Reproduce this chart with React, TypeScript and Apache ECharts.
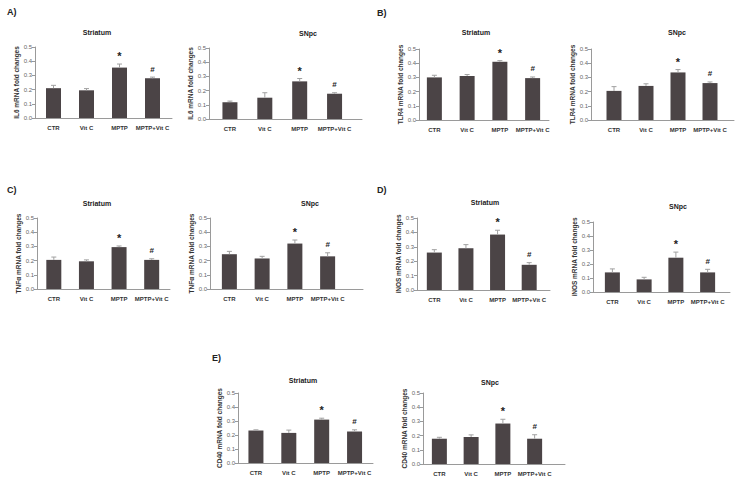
import React, { useEffect, useRef } from "react";
import * as echarts from "echarts";

const categories = ["CTR", "Vit C", "MPTP", "MPTP+Vit C"];
const markers = ["", "", "*", "#"];
const regions = ["Striatum", "SNpc"];

const il6Striatum = [0.21, 0.195, 0.355, 0.28];
const il6StriatumErr = [0.02, 0.012, 0.025, 0.008];
const il6Snpc = [0.118, 0.15, 0.265, 0.178];
const il6SnpcErr = [0.008, 0.035, 0.02, 0.007];

const tlr4Striatum = [0.3, 0.31, 0.41, 0.295];
const tlr4StriatumErr = [0.015, 0.01, 0.008, 0.008];
const tlr4Snpc = [0.205, 0.24, 0.335, 0.26];
const tlr4SnpcErr = [0.03, 0.015, 0.02, 0.008];

const tnfStriatum = [0.205, 0.195, 0.295, 0.205];
const tnfStriatumErr = [0.02, 0.01, 0.008, 0.008];
const tnfSnpc = [0.245, 0.215, 0.32, 0.23];
const tnfSnpcErr = [0.02, 0.015, 0.025, 0.025];

const inosStriatum = [0.26, 0.29, 0.385, 0.175];
const inosStriatumErr = [0.02, 0.025, 0.03, 0.015];
const inosSnpc = [0.14, 0.09, 0.245, 0.14];
const inosSnpcErr = [0.025, 0.015, 0.04, 0.022];

const cd40Striatum = [0.232, 0.215, 0.31, 0.225];
const cd40StriatumErr = [0.005, 0.02, 0.01, 0.012];
const cd40Snpc = [0.178, 0.19, 0.285, 0.178];
const cd40SnpcErr = [0.01, 0.015, 0.03, 0.028];

const panelLetters = [
  { text: "A)", x: 7, y: 12 },
  { text: "B)", x: 377, y: 13 },
  { text: "C)", x: 7, y: 190 },
  { text: "D)", x: 377, y: 190 },
  { text: "E)", x: 212, y: 358 },
];

// layout: frame (axis lines) and band (category area) positions per panel
const panels = [
  { name: "IL6 mRNA fold changes", region: 0, values: il6Striatum, errs: il6StriatumErr, fl: 35, fr: 172, t: 47, b: 118, bl: 37, br: 169, tx: 97, ty: 32 },
  { name: "IL6 mRNA fold changes", region: 1, values: il6Snpc, errs: il6SnpcErr, fl: 209, fr: 362, t: 48, b: 119, bl: 212.5, br: 352, tx: 308, ty: 33 },
  { name: "TLR4 mRNA fold changes", region: 0, values: tlr4Striatum, errs: tlr4StriatumErr, fl: 419, fr: 549, t: 49, b: 120, bl: 418, br: 549, tx: 476, ty: 32 },
  { name: "TLR4 mRNA fold changes", region: 1, values: tlr4Snpc, errs: tlr4SnpcErr, fl: 591, fr: 734, t: 49, b: 120, bl: 598, br: 726, tx: 677, ty: 32 },
  { name: "TNF\u03b1 mRNA fold changes", region: 0, values: tnfStriatum, errs: tnfStriatumErr, fl: 37, fr: 170, t: 218, b: 289, bl: 37.5, br: 168, tx: 97, ty: 203 },
  { name: "TNF\u03b1 mRNA fold changes", region: 1, values: tnfSnpc, errs: tnfSnpcErr, fl: 210, fr: 363, t: 218, b: 289, bl: 213, br: 344, tx: 310, ty: 203 },
  { name: "iNOS mRNA fold changes", region: 0, values: inosStriatum, errs: inosStriatumErr, fl: 417, fr: 550, t: 218, b: 290, bl: 418.5, br: 545, tx: 485, ty: 202 },
  { name: "iNOS mRNA fold changes", region: 1, values: inosSnpc, errs: inosSnpcErr, fl: 593, fr: 730, t: 222, b: 292, bl: 596.5, br: 723.5, tx: 678, ty: 206 },
  { name: "CD40 mRNA fold changes", region: 0, values: cd40Striatum, errs: cd40StriatumErr, fl: 238, fr: 373, t: 393, b: 463, bl: 239.5, br: 371, tx: 303, ty: 380 },
  { name: "CD40 mRNA fold changes", region: 1, values: cd40Snpc, errs: cd40SnpcErr, fl: 423, fr: 565, t: 393, b: 464, bl: 423.5, br: 550.5, tx: 490, ty: 382 },
];

const FONT = "'Liberation Sans', Arial, sans-serif";

function buildOption() {
  const grid: any[] = [];
  const xAxis: any[] = [];
  const yAxis: any[] = [];
  const series: any[] = [];
  const graphic: any[] = [];

  panels.forEach((p, i) => {
    const fi = 2 * i;
    const bi = 2 * i + 1;
    grid.push({ left: p.fl, top: p.t, width: p.fr - p.fl, height: p.b - p.t, containLabel: false });
    grid.push({ left: p.bl, top: p.t, width: p.br - p.bl, height: p.b - p.t, containLabel: false });

    xAxis.push({
      gridIndex: fi,
      type: "value",
      min: 0,
      max: 1,
      axisLine: { show: true, lineStyle: { color: "#9a9a9a", width: 1 } },
      axisTick: { show: false },
      axisLabel: { show: false },
      splitLine: { show: false },
    });
    xAxis.push({
      gridIndex: bi,
      type: "category",
      data: categories,
      axisLine: { show: false },
      axisTick: { show: false },
      axisLabel: {
        interval: 0,
        margin: 7,
        fontSize: 6,
        fontWeight: "bold",
        color: "#333",
        fontFamily: FONT,
      },
    });

    yAxis.push({
      gridIndex: fi,
      type: "value",
      min: 0,
      max: 0.5,
      interval: 0.1,
      name: p.name,
      nameLocation: "middle",
      nameGap: 14,
      nameTextStyle: { fontSize: 6.5, fontWeight: "bold", color: "#333", fontFamily: FONT },
      axisLine: { show: true, lineStyle: { color: "#9a9a9a", width: 1 } },
      axisTick: { show: true, length: 3, inside: false, lineStyle: { color: "#9a9a9a" } },
      axisLabel: {
        fontSize: 6,
        color: "#666",
        margin: 3,
        fontFamily: FONT,
        formatter: (v: number) => v.toFixed(1),
      },
      splitLine: { show: false },
    });
    yAxis.push({
      gridIndex: bi,
      type: "value",
      min: 0,
      max: 0.5,
      show: false,
    });

    series.push({
      type: "bar",
      xAxisIndex: bi,
      yAxisIndex: bi,
      data: p.values,
      barWidth: 15,
      itemStyle: { color: "#4b4446" },
      z: 2,
    });

    series.push({
      type: "custom",
      xAxisIndex: bi,
      yAxisIndex: bi,
      z: 3,
      data: p.values.map((v, k) => [k, v, p.errs[k]]),
      encode: { x: 0, y: 1 },
      renderItem: (params: any, api: any) => {
        const idx = params.dataIndex;
        const v = api.value(1);
        const e = api.value(2);
        const base = api.coord([idx, v]);
        const top = api.coord([idx, v + e]);
        const children: any[] = [
          {
            type: "line",
            shape: { x1: base[0], y1: base[1], x2: top[0], y2: top[1] },
            style: { stroke: "#a0a0a0", lineWidth: 1 },
          },
          {
            type: "line",
            shape: { x1: top[0] - 2.5, y1: top[1], x2: top[0] + 2.5, y2: top[1] },
            style: { stroke: "#a0a0a0", lineWidth: 1 },
          },
        ];
        const m = markers[idx];
        if (m) {
          children.push({
            type: "text",
            x: top[0],
            y: top[1] - 8,
            style: {
              text: m,
              textAlign: "center",
              textVerticalAlign: "middle",
              align: "center",
              verticalAlign: "middle",
              font: m === "*" ? `bold 11px ${FONT}` : `bold 8px ${FONT}`,
              fill: "#222",
            },
          });
        }
        return { type: "group", children };
      },
    });

    graphic.push({
      type: "text",
      x: p.tx,
      y: p.ty,
      style: {
        text: regions[p.region],
        textAlign: "center",
        textVerticalAlign: "middle",
        align: "center",
        verticalAlign: "middle",
        font: `bold 7px ${FONT}`,
        fill: "#222",
      },
    });
  });

  panelLetters.forEach((l) => {
    graphic.push({
      type: "text",
      x: l.x,
      y: l.y,
      style: {
        text: l.text,
        textAlign: "left",
        textVerticalAlign: "middle",
        align: "left",
        verticalAlign: "middle",
        font: `bold 9px ${FONT}`,
        fill: "#222",
      },
    });
  });

  return {
    animation: false,
    backgroundColor: "#ffffff",
    grid,
    xAxis,
    yAxis,
    series,
    graphic,
  };
}

export default function App() {
  const ref = useRef<HTMLDivElement>(null);
  useEffect(() => {
    if (!ref.current) return;
    const chart = echarts.init(ref.current, undefined, { renderer: "svg" });
    chart.setOption(buildOption() as any);
    return () => chart.dispose();
  }, []);
  return (
    <div
      ref={ref}
      style={{ position: "absolute", left: 0, top: 0, width: 738, height: 484, background: "#fff" }}
    />
  );
}
